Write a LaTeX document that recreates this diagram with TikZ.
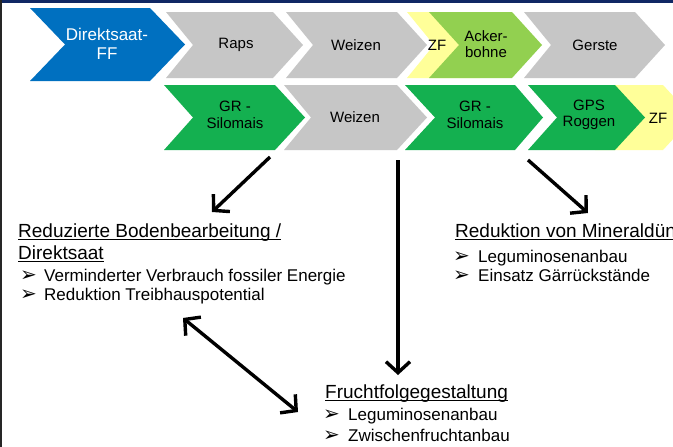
\documentclass[tikz,border=0pt]{standalone}
\usepackage{fontspec}
\setmainfont{Liberation Sans}
\newfontfamily\dejavu{DejaVu Sans}
\usetikzlibrary{arrows.meta}
\definecolor{cblue}{RGB}{0,112,192}
\definecolor{cgray}{RGB}{198,198,198}
\definecolor{cgreen}{RGB}{20,176,80}
\definecolor{clgreen}{RGB}{146,208,80}
\definecolor{cyellow}{RGB}{255,255,153}
\definecolor{cnavy}{RGB}{16,40,100}
\newcommand\chevshape[7]{%
  \fill[#1] (#2,#4) -- (#3,#4) -- ({#3+#6},{(#4+#5)/2}) -- (#3,#5) -- (#2,#5) -- ({#2+#7},{(#4+#5)/2}) -- cycle;}
\tikzset{
  chevlabel/.style={font=\fontsize{15}{16.5}\selectfont, align=center, inner sep=0pt, text=black},
  headtext/.style={font=\fontsize{19}{22}\selectfont, anchor=base west, inner sep=0pt},
  bultext/.style={font=\fontsize{17}{19}\selectfont, anchor=base west, inner sep=0pt},
  bulmark/.style={font=\dejavu\fontsize{20}{20}\selectfont, anchor=base west, inner sep=0pt},
  uline/.style={line width=1.1pt},
  bigarrow/.style={line width=3.4pt, -{Straight Barb[length=11pt,width=24pt]}},
  dblarrow/.style={line width=3.4pt, {Straight Barb[length=11pt,width=24pt]}-{Straight Barb[length=11pt,width=24pt]}},
}
\begin{document}
\begin{tikzpicture}[x=1pt,y=-1pt]
\useasboundingbox (0,0) rectangle (673,447);
\clip (0,0) rectangle (673,447);
\fill[white] (0,0) rectangle (673,447);
% frame
\fill[cnavy] (0,0) rectangle (673,2.5);
\fill[black!85] (0,0) rectangle (1.5,447);
% row 1
\chevshape{cblue}{30}{150}{8}{81}{35}{35}
\chevshape{cgray}{166}{273}{12}{78}{30}{27}
\chevshape{cgray}{286}{397}{12}{78}{30}{27}
\chevshape{cyellow}{407}{480}{12}{78}{30}{27}
\chevshape{clgreen}{429}{512}{12}{78}{30}{30}
\chevshape{cgray}{524}{635}{12}{78}{30}{27}
% row 2
\chevshape{cgreen}{164}{275}{85}{150}{30}{29}
\chevshape{cgray}{284}{397}{85}{150}{30}{27}
\chevshape{cgreen}{405}{515}{85}{150}{28}{30}
\chevshape{cyellow}{595}{663}{85}{150}{30}{27}
\chevshape{cgreen}{528}{615}{85}{150}{30}{29}
% labels
\node[chevlabel, text=white, font=\fontsize{17}{19}\selectfont] (direkt) at (107,44) {Direktsaat-\\FF};
\node[chevlabel] (raps) at (236,45) {Raps};
\node[chevlabel] (weizen1) at (356,45) {Weizen};
\node[chevlabel] (zf1) at (437,45) {ZF};
\node[chevlabel] (acker) at (486,44) {Acker-\\bohne};
\node[chevlabel] (gerste) at (595,45) {Gerste};
\node[chevlabel] (gr1) at (235,115) {GR -\\Silomais};
\node[chevlabel] (weizen2) at (355,117) {Weizen};
\node[chevlabel] (gr2) at (475,115) {GR -\\Silomais};
\node[chevlabel] (gps) at (589,115) {GPS\\Roggen};
\node[chevlabel] (zf2) at (658,118) {ZF};
% block 1
\node[headtext] (h1a) at (18,237) {Reduzierte Bodenbearbeitung /};
\node[headtext] (h1b) at (18,259) {Direktsaat};
\draw[uline] ([yshift=-2.5pt]h1a.base west) -- ([yshift=-2.5pt]h1a.base east);
\draw[uline] ([yshift=-2.5pt]h1b.base west) -- ([yshift=-2.5pt]h1b.base east);
\node[bulmark] (m1a) at (20,281) {➢};
\node[bultext] (b1a) at (44,281) {Verminderter Verbrauch fossiler Energie};
\node[bulmark] (m1b) at (20,300) {➢};
\node[bultext] (b1b) at (44,300) {Reduktion Treibhauspotential};
% block 2
\node[headtext] (h2a) at (455,237) {Reduktion von Mineraldüngern};
\draw[uline] ([yshift=-2.5pt]h2a.base west) -- ([yshift=-2.5pt]h2a.base east);
\node[bulmark] (m2a) at (453,262) {➢};
\node[bultext] (b2a) at (478,262) {Leguminosenanbau};
\node[bulmark] (m2b) at (453,281) {➢};
\node[bultext] (b2b) at (478,281) {Einsatz Gärrückstände};
% block 3
\node[headtext] (h3a) at (325,398) {Fruchtfolgegestaltung};
\draw[uline] ([yshift=-2.5pt]h3a.base west) -- ([yshift=-2.5pt]h3a.base east);
\node[bulmark] (m3a) at (323,420) {➢};
\node[bultext] (b3a) at (348,420) {Leguminosenanbau};
\node[bulmark] (m3b) at (323,441) {➢};
\node[bultext] (b3b) at (348,441) {Zwischenfruchtanbau};
% arrows
\coordinate (a1s) at (270,157);
\coordinate (a1e) at (212,212);
\coordinate (a2s) at (398,160);
\coordinate (a2e) at (398,375);
\coordinate (a3s) at (528,160);
\coordinate (a3e) at (588,213);
\coordinate (a4s) at (183,318);
\coordinate (a4e) at (298,412);
\draw[bigarrow] (a1s) -- (a1e);
\draw[bigarrow] (a2s) -- (a2e);
\draw[bigarrow] (a3s) -- (a3e);
\draw[dblarrow] (a4s) -- (a4e);
\end{tikzpicture}
\end{document}
